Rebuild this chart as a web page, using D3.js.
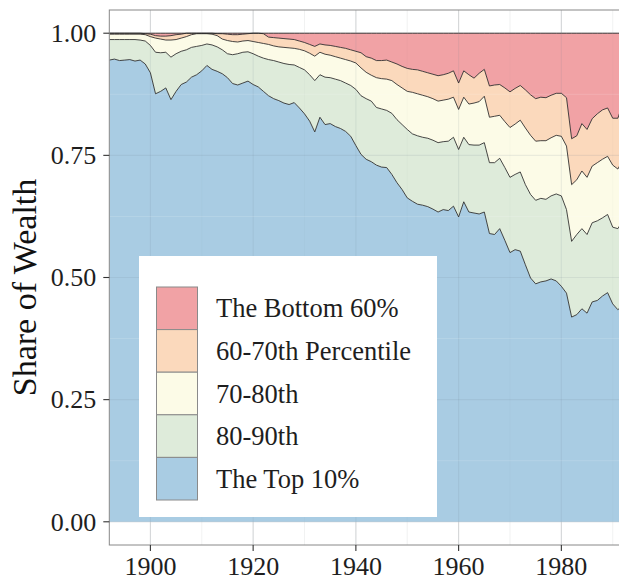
<!DOCTYPE html>
<html><head><meta charset="utf-8">
<script src="https://cdn.jsdelivr.net/npm/d3@7"></script>
<style>
body{margin:0;background:#fff;}
svg{display:block;font-family:"Liberation Serif","Times New Roman",serif;}
</style>
</head><body>
<svg id="chart" width="619" height="582"></svg>
<script>
// ---- data (shares of wealth by group, 1892-1992) ----
const years = d3.range(1892, 1993);
const top10 = [0.945,0.947,0.944,0.945,0.946,0.943,0.945,0.937,0.919,0.876,
0.881,0.888,0.864,0.881,0.895,0.900,0.910,0.915,0.923,0.934,
0.926,0.922,0.917,0.909,0.897,0.894,0.898,0.902,0.895,0.890,
0.881,0.872,0.866,0.862,0.857,0.854,0.858,0.847,0.835,0.820,
0.798,0.828,0.813,0.815,0.809,0.805,0.799,0.789,0.770,0.752,
0.742,0.737,0.730,0.726,0.725,0.711,0.694,0.680,0.663,0.656,
0.650,0.648,0.645,0.640,0.634,0.639,0.637,0.646,0.624,0.655,
0.634,0.632,0.630,0.634,0.590,0.588,0.600,0.576,0.551,0.557,
0.554,0.526,0.499,0.487,0.491,0.493,0.497,0.493,0.482,0.468,
0.419,0.424,0.436,0.427,0.450,0.453,0.462,0.469,0.446,0.434,0.444];
const p80_90 = [0.042,0.040,0.043,0.042,0.041,0.044,0.041,0.047,0.056,0.085,
0.079,0.073,0.087,0.077,0.068,0.066,0.061,0.058,0.052,0.044,
0.050,0.050,0.049,0.049,0.059,0.064,0.063,0.060,0.063,0.063,
0.068,0.074,0.078,0.079,0.081,0.082,0.077,0.083,0.090,0.095,
0.105,0.087,0.097,0.094,0.097,0.098,0.099,0.104,0.115,0.120,
0.124,0.124,0.118,0.119,0.117,0.125,0.129,0.133,0.140,0.138,
0.140,0.139,0.140,0.141,0.142,0.139,0.142,0.141,0.138,0.132,
0.138,0.139,0.141,0.142,0.145,0.147,0.144,0.149,0.154,0.154,
0.162,0.164,0.171,0.171,0.171,0.167,0.170,0.178,0.185,0.171,
0.155,0.164,0.164,0.161,0.162,0.163,0.160,0.160,0.157,0.166,0.173];
const p70_80 = [0.011,0.011,0.011,0.011,0.011,0.011,0.012,0.013,0.018,0.029,
0.028,0.025,0.035,0.029,0.027,0.027,0.026,0.026,0.024,0.021,
0.022,0.023,0.022,0.027,0.027,0.024,0.023,0.023,0.025,0.028,
0.030,0.031,0.030,0.031,0.033,0.034,0.034,0.037,0.039,0.044,
0.050,0.046,0.047,0.046,0.046,0.046,0.048,0.050,0.054,0.057,
0.054,0.053,0.061,0.062,0.064,0.067,0.072,0.075,0.078,0.085,
0.086,0.086,0.085,0.085,0.085,0.085,0.086,0.082,0.082,0.082,
0.083,0.086,0.089,0.095,0.093,0.095,0.088,0.094,0.102,0.103,
0.106,0.116,0.121,0.121,0.118,0.120,0.119,0.120,0.122,0.130,
0.116,0.112,0.118,0.117,0.116,0.119,0.120,0.119,0.127,0.122,0.124];
const p60_70 = [0.002,0.002,0.002,0.002,0.002,0.002,0.002,0.002,0.005,0.005,
0.006,0.008,0.009,0.010,0.008,0.007,0.003,0.001,0.001,0.001,
0.002,0.004,0.011,0.013,0.014,0.015,0.014,0.014,0.017,0.019,
0.020,0.015,0.017,0.018,0.018,0.018,0.018,0.017,0.017,0.018,
0.020,0.017,0.019,0.020,0.021,0.022,0.023,0.023,0.024,0.031,
0.032,0.035,0.035,0.037,0.039,0.038,0.042,0.044,0.047,0.047,
0.049,0.049,0.049,0.050,0.052,0.052,0.053,0.054,0.054,0.054,
0.060,0.051,0.058,0.055,0.064,0.064,0.063,0.069,0.073,0.073,
0.071,0.078,0.083,0.087,0.089,0.088,0.087,0.086,0.088,0.099,
0.094,0.090,0.097,0.098,0.097,0.100,0.101,0.099,0.096,0.104,0.116];
const bottom60 = [0.000,0.000,0.000,0.000,0.000,0.000,0.000,0.001,0.002,0.005,
0.006,0.006,0.005,0.003,0.002,0.000,0.000,0.000,0.000,0.000,
0.000,0.001,0.001,0.002,0.003,0.003,0.002,0.001,0.000,0.000,
0.001,0.008,0.009,0.010,0.011,0.012,0.013,0.016,0.019,0.023,
0.027,0.022,0.024,0.025,0.027,0.029,0.031,0.034,0.037,0.040,
0.048,0.051,0.056,0.056,0.055,0.059,0.063,0.068,0.072,0.074,
0.075,0.078,0.081,0.084,0.087,0.085,0.082,0.077,0.102,0.077,
0.085,0.092,0.082,0.074,0.108,0.106,0.105,0.112,0.120,0.113,
0.107,0.116,0.126,0.134,0.131,0.132,0.127,0.123,0.123,0.132,
0.216,0.210,0.185,0.197,0.175,0.165,0.157,0.153,0.174,0.174,0.143];

const seriesKeys   = ["top10","p80_90","p70_80","p60_70","bottom60"];
const seriesLabels = ["The Top 10%","80-90th","70-80th","60-70th Percentile","The Bottom 60%"];
const seriesColors = ["#a9cce3","#deebda","#fcfbe7","#fbd9bc","#f1a2a5"];
const seriesValues = [top10, p80_90, p70_80, p60_70, bottom60];

const xMajor = [1900,1920,1940,1960,1980];
const xMinor = [1890,1910,1930,1950,1970,1990];
const yMajor = [0,0.25,0.5,0.75,1];
const yMinor = [0.125,0.375,0.625,0.875];

// ---- layout ----
const svg = d3.select("#chart");
const P = {left:109.3, right:623, top:10, bottom:545};
const x = d3.scaleLinear().domain([1892,1992]).range([P.left,P.right]);
const y = d3.scaleLinear().domain([-0.0475,1.0475]).range([P.bottom,P.top]);

const table = years.map((yr,i)=>{
  const row={year:yr};
  seriesKeys.forEach((k,j)=>row[k]=seriesValues[j][i]);
  return row;
});
const stacked = d3.stack().keys(seriesKeys)(table);

svg.append("defs").append("clipPath").attr("id","clip")
  .append("rect").attr("x",P.left).attr("y",P.top)
  .attr("width",P.right-P.left).attr("height",P.bottom-P.top);

const panel = svg.append("g").attr("clip-path","url(#clip)");
panel.append("rect").attr("x",P.left).attr("y",P.top)
  .attr("width",P.right-P.left).attr("height",P.bottom-P.top).attr("fill","#fff");

function grid(g, major, minor){
  g.selectAll(".vmin").data(xMinor).join("line")
    .attr("x1",d=>x(d)).attr("x2",d=>x(d)).attr("y1",P.top).attr("y2",P.bottom)
    .attr("stroke",minor).attr("stroke-width",0.6);
  g.selectAll(".hmin").data(yMinor).join("line")
    .attr("x1",P.left).attr("x2",P.right).attr("y1",d=>y(d)).attr("y2",d=>y(d))
    .attr("stroke",minor).attr("stroke-width",0.6);
  g.selectAll(".vmaj").data(xMajor).join("line")
    .attr("x1",d=>x(d)).attr("x2",d=>x(d)).attr("y1",P.top).attr("y2",P.bottom)
    .attr("stroke",major).attr("stroke-width",1.1);
  g.selectAll(".hmaj").data(yMajor).join("line")
    .attr("x1",P.left).attr("x2",P.right).attr("y1",d=>y(d)).attr("y2",d=>y(d))
    .attr("stroke",major).attr("stroke-width",1.1);
}
grid(panel.append("g"), "#e3e3e3", "#f0f0f0");

const area = d3.area().x(d=>x(d.data.year)).y0(d=>y(d[0])).y1(d=>y(d[1]));
const upper = d3.line().x(d=>x(d.data.year)).y(d=>y(d[1]));

panel.selectAll(".area").data(stacked).join("path")
  .attr("d",area).attr("fill",(d,i)=>seriesColors[i]);

// grid showing through the areas
const og = panel.append("g");
og.selectAll(".v").data(xMajor).join("line")
  .attr("x1",d=>x(d)).attr("x2",d=>x(d)).attr("y1",P.top).attr("y2",P.bottom)
  .attr("stroke","#6a7f8f").attr("stroke-opacity",0.12).attr("stroke-width",1.1);
og.selectAll(".h").data(yMajor).join("line")
  .attr("x1",P.left).attr("x2",P.right).attr("y1",d=>y(d)).attr("y2",d=>y(d))
  .attr("stroke","#6a7f8f").attr("stroke-opacity",0.12).attr("stroke-width",1.1);
og.selectAll(".vm").data(xMinor).join("line")
  .attr("x1",d=>x(d)).attr("x2",d=>x(d)).attr("y1",P.top).attr("y2",P.bottom)
  .attr("stroke","#6a7f8f").attr("stroke-opacity",0.06).attr("stroke-width",0.6);
og.selectAll(".hm").data(yMinor).join("line")
  .attr("x1",P.left).attr("x2",P.right).attr("y1",d=>y(d)).attr("y2",d=>y(d))
  .attr("stroke","#fff").attr("stroke-opacity",0.25).attr("stroke-width",0.6);

panel.selectAll(".upper").data(stacked).join("path")
  .attr("d",upper).attr("fill","none").attr("stroke","#262626").attr("stroke-width",0.85);

// panel border
svg.append("rect").attr("x",P.left).attr("y",P.top)
  .attr("width",P.right-P.left).attr("height",P.bottom-P.top)
  .attr("fill","none").attr("stroke","#888").attr("stroke-width",1);

// axes
const ax = svg.append("g");
ax.selectAll(".yt").data(yMajor).join("line")
  .attr("x1",P.left-6).attr("x2",P.left).attr("y1",d=>y(d)).attr("y2",d=>y(d))
  .attr("stroke","#333").attr("stroke-width",1.1);
ax.selectAll(".yl").data(yMajor).join("text")
  .attr("x",P.left-13).attr("y",d=>y(d)+8.8).attr("text-anchor","end")
  .attr("font-size",26).attr("fill","#1e1e1e").text(d=>d3.format(".2f")(d));
ax.selectAll(".xt").data(xMajor).join("line")
  .attr("x1",d=>x(d)).attr("x2",d=>x(d)).attr("y1",P.bottom).attr("y2",P.bottom+6)
  .attr("stroke","#333").attr("stroke-width",1.1);
ax.selectAll(".xl").data(xMajor).join("text")
  .attr("x",d=>x(d)).attr("y",P.bottom+30).attr("text-anchor","middle")
  .attr("font-size",26).attr("fill","#1e1e1e").text(d=>d);

svg.append("text").attr("transform",`translate(36,${(P.top+P.bottom)/2 + 10}) rotate(-90)`)
  .attr("text-anchor","middle").attr("font-size",34).attr("fill","#111").text("Share of Wealth");

// legend
const lg = svg.append("g");
lg.append("rect").attr("x",139).attr("y",256).attr("width",298).attr("height",261).attr("fill","#fff");
const order = [4,3,2,1,0];
order.forEach((si,k)=>{
  const ky = 287 + k*42.6;
  lg.append("rect").attr("x",156.5).attr("y",ky).attr("width",41).attr("height",42.6)
    .attr("fill",seriesColors[si]).attr("stroke","#8a8a8a").attr("stroke-width",1);
  lg.append("text").attr("x",216).attr("y",ky+21.3+9).attr("font-size",26.5)
    .attr("fill","#1e1e1e").text(seriesLabels[si]);
});
</script>
</body></html>
